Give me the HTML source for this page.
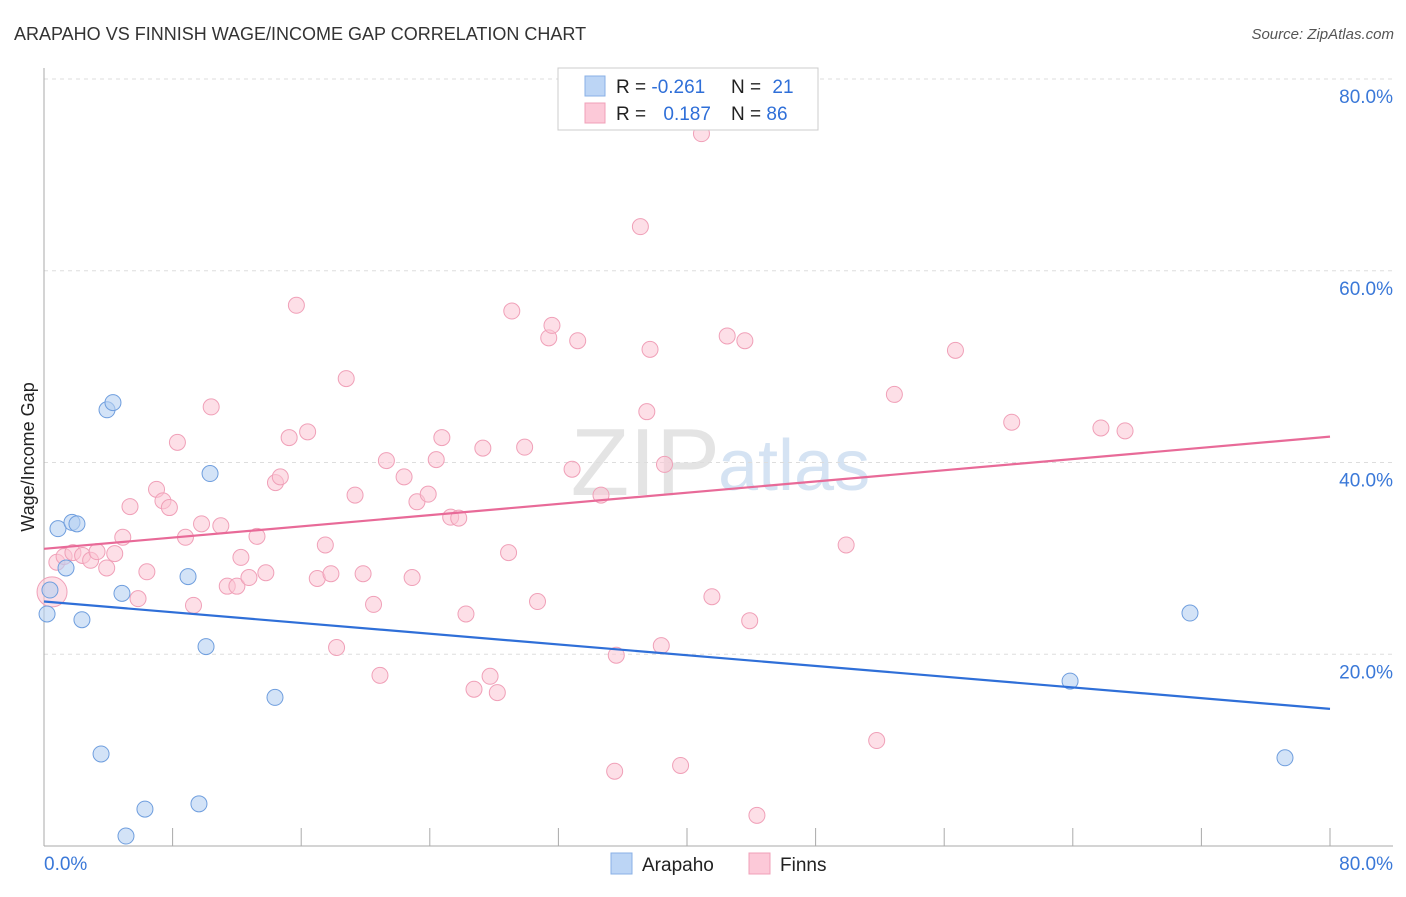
<!DOCTYPE html>
<html><head><meta charset="utf-8"><style>
body{margin:0;background:#fff;font-family:"Liberation Sans",sans-serif;}
svg text{font-family:"Liberation Sans",sans-serif;}
</style></head><body>
<svg id="chart" width="1406" height="892" xmlns="http://www.w3.org/2000/svg">
<text x="14" y="40" font-size="18" fill="#333">ARAPAHO VS FINNISH WAGE/INCOME GAP CORRELATION CHART</text>
<text x="1394" y="39" font-size="15" fill="#555" font-style="italic" text-anchor="end">Source: ZipAtlas.com</text>
<text x="720" y="495" font-size="96" fill="#e4e4e4" text-anchor="end" font-family="Liberation Serif">ZIP</text>
<text x="718" y="490" font-size="72" fill="#d5e3f3">atlas</text>
<g id="grid"></g>
<g id="axes"></g>
<text transform="translate(34,457) rotate(-90)" font-size="18" fill="#222" text-anchor="middle">Wage/Income Gap</text>
<g id="marks"></g>
<g>
<rect x="558" y="68" width="260" height="62" fill="#fff" stroke="#ccc"/>
<rect x="585" y="76" width="20" height="20" fill="#bcd5f5" stroke="#8ab0e6"/>
<rect x="585" y="103" width="20" height="20" fill="#fcc9d8" stroke="#f0a0b8"/>
<text x="616" y="93" font-size="19" fill="#222">R = <tspan fill="#2f6fd8">-0.261</tspan></text>
<text x="731" y="93" font-size="19" fill="#222">N = <tspan fill="#2f6fd8" dx="6">21</tspan></text>
<text x="616" y="120" font-size="19" fill="#222">R = <tspan fill="#2f6fd8" dx="12">0.187</tspan></text>
<text x="731" y="120" font-size="19" fill="#222">N = <tspan fill="#2f6fd8">86</tspan></text>
</g>
<g>
<rect x="611" y="853" width="21" height="21" fill="#bcd5f5" stroke="#8ab0e6"/>
<text x="642" y="871" font-size="19" fill="#222">Arapaho</text>
<rect x="749" y="853" width="21" height="21" fill="#fcc9d8" stroke="#f0a0b8"/>
<text x="780" y="871" font-size="19" fill="#222">Finns</text>
</g>
</svg>
<script>
const yTicks=[20,40,60,80];
const yTickLabels=["20.0%","40.0%","60.0%","80.0%"];
const xTickCount=10;
const blueX=[0.37,0.19,0.87,1.74,2.05,1.37,2.36,3.92,4.29,4.85,3.55,6.28,5.10,8.96,9.64,10.08,10.33,14.37,63.83,71.29,77.2];
const blueY=[26.7,24.2,33.1,33.75,33.6,29.0,23.6,45.5,46.25,26.35,9.6,3.85,1.04,28.1,4.4,20.8,38.85,15.5,17.2,24.3,9.2];
const pinkX=[0.5,0.8,1.25,1.8,2.4,2.9,3.3,3.9,4.4,4.9,5.35,6.4,5.85,7.0,7.4,7.8,8.3,8.8,9.3,9.8,10.4,11.0,11.4,12.0,12.25,12.75,13.25,13.8,14.4,14.7,15.25,15.7,16.4,17.0,17.5,17.85,18.2,18.8,19.35,19.85,20.5,20.9,21.3,22.4,22.9,23.2,23.9,24.4,24.75,25.3,25.8,26.25,26.75,27.3,27.75,28.2,28.9,29.1,29.9,30.7,31.4,31.6,32.85,33.2,34.65,35.6,35.5,37.1,37.5,37.7,38.4,38.6,39.6,40.9,41.55,42.5,43.6,43.9,44.35,49.9,51.8,52.9,56.7,60.2,65.75,67.25];
const pinkY=[26.5,29.6,30.2,30.6,30.3,29.8,30.7,29.0,30.5,32.2,35.4,28.6,25.8,37.2,36.0,35.3,42.1,32.2,25.1,33.6,45.8,33.4,27.1,27.1,30.1,28.0,32.3,28.5,37.9,38.5,42.6,56.4,43.2,27.9,31.4,28.4,20.7,48.75,36.6,28.4,25.2,17.8,40.2,38.5,28.0,35.9,36.7,40.3,42.6,34.3,34.2,24.2,16.35,41.5,17.7,16.0,30.6,55.8,41.6,25.5,53.0,54.3,39.3,52.7,36.6,19.9,7.8,64.6,45.3,51.8,20.9,39.8,8.4,74.3,26.0,53.2,52.7,23.5,3.2,31.4,11.0,47.1,51.7,44.2,43.6,43.3];
const blueTrend=[25.5,14.3];
const pinkTrend=[31.0,42.7];
const X0=44,X1=1330,Y0=846,Y80=79;
const sx=v=>X0+(X1-X0)*v/80;
const sy=v=>Y0-(Y0-Y80)*v/80;
const NS="http://www.w3.org/2000/svg";
function mk(tag,attrs,parent){const e=document.createElementNS(NS,tag);for(const k in attrs)e.setAttribute(k,attrs[k]);document.getElementById(parent).appendChild(e);return e;}
yTicks.forEach((t,i)=>{
 const g=mk('line',{x1:X0,x2:1393,y1:sy(t),y2:sy(t),stroke:'#ddd','stroke-dasharray':'4,4'},'grid');
 
 
 const l=mk('text',{x:1393,y:sy(t)+24,'font-size':19,fill:'#3a78d8','text-anchor':'end'},'axes');
 l.textContent=yTickLabels[i];
 
 
});
const ax=mk('line',{x1:X0,x2:1393,y1:Y0,y2:Y0,stroke:'#aaa'},'axes');


const ay=mk('line',{x1:X0,x2:X0,y1:68,y2:Y0,stroke:'#aaa'},'axes');


for(let i=1;i<=xTickCount;i++){
 const t=mk('line',{x1:sx(i*8),x2:sx(i*8),y1:Y0-18,y2:Y0,stroke:'#aaa'},'axes');
 
 
}
const xl=mk('text',{x:44,y:870,'font-size':19,fill:'#3a78d8'},'axes');xl.textContent='0.0%';


const xr=mk('text',{x:1393,y:870,'font-size':19,fill:'#3a78d8','text-anchor':'end'},'axes');xr.textContent='80.0%';


pinkX.forEach((x,i)=>{
 const c=mk('circle',{cx:sx(x),cy:sy(pinkY[i]),r:i===0?15:8,fill:'#fbc4d4','fill-opacity':0.55,stroke:'#f0a0b8','stroke-width':1},'marks');
 
 
});
blueX.forEach((x,i)=>{
 const c=mk('circle',{cx:sx(x),cy:sy(blueY[i]),r:8,fill:'#b6d0f2','fill-opacity':0.6,stroke:'#6f9ede','stroke-width':1},'marks');
 
 
});
const bt=mk('line',{x1:sx(0),x2:sx(80),y1:sy(blueTrend[0]),y2:sy(blueTrend[1]),stroke:'#2f6fd8','stroke-width':2.2},'marks');


const pt=mk('line',{x1:sx(0),x2:sx(80),y1:sy(pinkTrend[0]),y2:sy(pinkTrend[1]),stroke:'#e86a98','stroke-width':2.2},'marks');


</script>
</body></html>
